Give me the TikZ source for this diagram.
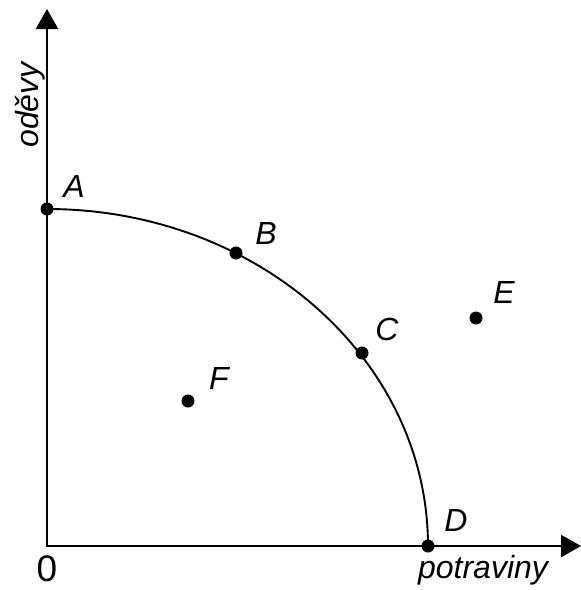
\documentclass[tikz,border=0pt]{standalone}
\usepackage{fontspec}
\setmainfont{Liberation Sans}
\usetikzlibrary{arrows.meta, positioning}
\tikzset{
  every picture/.style={font=\fontsize{32}{37}\selectfont, >=Triangle},
  osa/.style={line width=2.4pt, {Triangle[length=20pt,width=22pt]}-{Triangle[length=20pt,width=22pt]}},
  hranice/.style={line width=1.9pt},
  bod/.style={circle, fill=black, inner sep=0pt, minimum size=13pt},
  popis/.style={inner sep=0pt, font=\fontsize{32}{37}\selectfont\itshape},
}
\begin{document}
\begin{tikzpicture}[x=1pt, y=-1pt]
  \useasboundingbox (0,0) rectangle (581,590);
  % osy
  \coordinate (O) at (47,546);
  \coordinate (Ytop) at (47,9);
  \coordinate (Xend) at (581,546);
  \draw[osa] (Ytop) -- (O) -- (Xend);
  % krivka produkcnich moznosti
  \node[bod] (A) at (47,209) {};
  \node[bod] (B) at (236,253) {};
  \node[bod] (C) at (362,353) {};
  \node[bod] (D) at (428,546) {};
  \node[bod] (E) at (476,318) {};
  \node[bod] (F) at (188,401) {};
  \draw[hranice] (A.center) arc[start angle=90, end angle=0, x radius=381pt, y radius=337pt];
  % popisky
  \node[popis] (lA) at (74,186) {A};
  \node[popis] (lB) at (266,233) {B};
  \node[popis] (lC) at (387,329) {C};
  \node[popis] (lD) at (456,520) {D};
  \node[popis] (lE) at (504,292) {E};
  \node[popis] (lF) at (219,378) {F};
  \node[inner sep=0pt, font=\fontsize{37}{42}\selectfont] (l0) at (47,569) {0};
  \node[popis, anchor=base] (lx) at (483,578) {potraviny};
  \node[popis, rotate=90] (ly) at (30,105) {oděvy};
\end{tikzpicture}
\end{document}
